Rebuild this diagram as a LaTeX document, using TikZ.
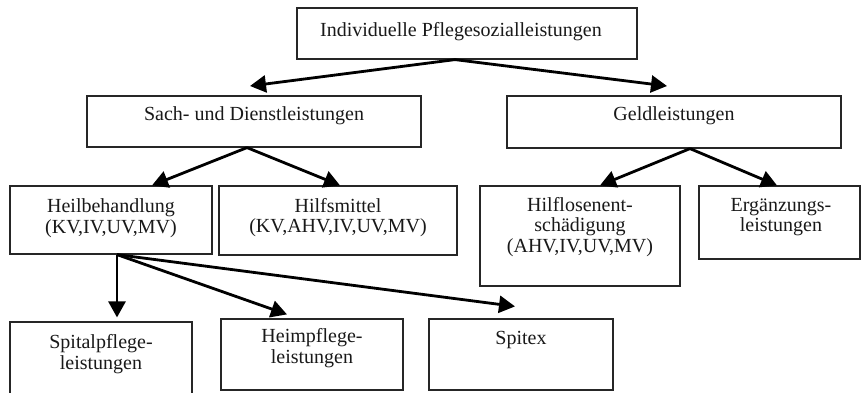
\documentclass[tikz,border=0pt]{standalone}
\usepackage{fontspec}
\setmainfont{Liberation Serif}
\usetikzlibrary{arrows.meta}
\begin{document}
\begin{tikzpicture}[x=1pt,y=-1pt,
  box/.style={draw=black!85, line width=1.2pt, inner sep=0pt},
  txt/.style={align=center, inner sep=0pt, text=black!90, font=\fontsize{20}{20.5}\selectfont},
  arr/.style={line width=2.8pt, -{Triangle[length=16pt,width=17pt]}}]
\fill[white] (0,0) rectangle (862,392);
\useasboundingbox (0,0) rectangle (862,392);
% boxes
\node[box, minimum width=340pt, minimum height=51pt] (top) at (467,33.5) {};
\node[box, minimum width=334pt, minimum height=51pt] (sach) at (254,121.5) {};
\node[box, minimum width=334pt, minimum height=52pt] (geld) at (674,122) {};
\node[box, minimum width=202pt, minimum height=68pt] (heil) at (111,220) {};
\node[box, minimum width=238pt, minimum height=69pt] (hilfs) at (338,220.5) {};
\node[box, minimum width=200pt, minimum height=100pt] (hilflos) at (580,236) {};
\node[box, minimum width=161pt, minimum height=73pt] (ergaenz) at (779.5,222.5) {};
\node[box, minimum width=182pt, minimum height=72pt] (spital) at (101,358) {};
\node[box, minimum width=182pt, minimum height=71pt] (heim) at (312,354.5) {};
\node[box, minimum width=184pt, minimum height=71pt] (spitex) at (521,354.5) {};
% texts
\node[txt] (topT) at (461,32) {Individuelle Pflegesozialleistungen};
\node[txt] (sachT) at (254,116) {Sach- und Dienstleistungen};
\node[txt] (geldT) at (674,116) {Geldleistungen};
\node[txt] (heilT) at (111,218) {Heilbehandlung\\(KV,IV,UV,MV)};
\node[txt] (hilfsT) at (338,217.5) {Hilfsmittel\\(KV,AHV,IV,UV,MV)};
\node[txt] (hilflosT) at (580,227) {Hilflosenent-\\schädigung\\(AHV,IV,UV,MV)};
\node[txt] (ergaenzT) at (781,217) {Ergänzungs-\\leistungen};
\node[txt] (spitalT) at (101,354) {Spitalpflege-\\leistungen};
\node[txt] (heimT) at (312,348) {Heimpflege-\\leistungen};
\node[txt] (spitexT) at (521,340) {Spitex};
% free arrow ends
\coordinate (tipL) at (250,86);
\coordinate (tipR) at (667,86);
% arrows
\draw[arr] ([xshift=-12pt]top.south) -- (tipL);
\draw[arr] ([xshift=-12pt]top.south) -- (tipR);
\draw[arr] ([xshift=-7pt]sach.south) -- ([xshift=41pt]heil.north);
\draw[arr] ([xshift=-7pt]sach.south) -- ([xshift=2pt]hilfs.north);
\draw[arr] ([xshift=16pt]geld.south) -- ([xshift=20pt]hilflos.north);
\draw[arr] ([xshift=16pt]geld.south) -- ([xshift=-2.5pt]ergaenz.north);
\draw[arr] ([xshift=6pt]heil.south) -- ([xshift=16pt,yshift=4pt]spital.north);
\draw[arr] ([xshift=6pt]heil.south) -- ([xshift=-25pt,yshift=4pt]heim.north);
\draw[arr] ([xshift=6pt]heil.south) -- ([xshift=-6pt,yshift=12pt]spitex.north);
\end{tikzpicture}
\end{document}
